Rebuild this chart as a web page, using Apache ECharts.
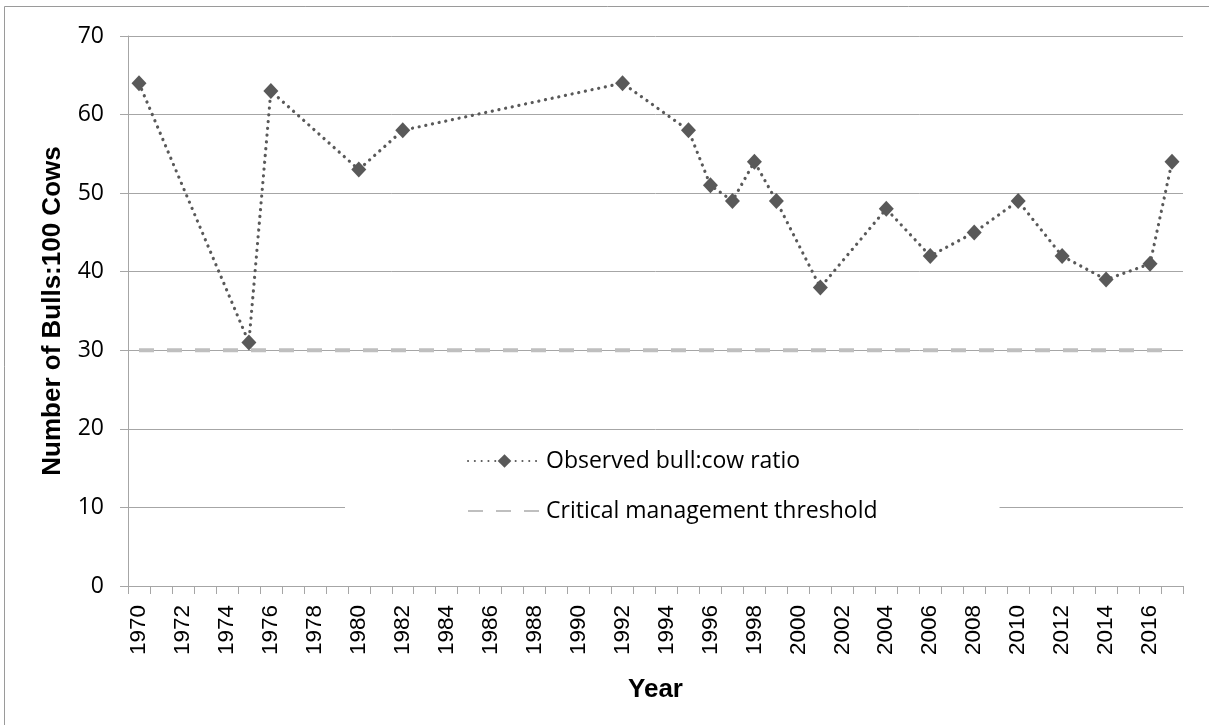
<!DOCTYPE html>
<html>
<head>
<meta charset="utf-8">
<script src="https://cdn.jsdelivr.net/npm/echarts@6/dist/echarts.min.js"></script>
<style>
  html, body { margin: 0; padding: 0; background: #ffffff; }
  #chart { width: 1209px; height: 725px; }
</style>
</head>
<body>
<div id="chart"></div>
<script>
// ---- data ----
const categories = ['1970','1971','1972','1973','1974','1975','1976','1977','1978','1979',
  '1980','1981','1982','1983','1984','1985','1986','1987','1988','1989',
  '1990','1991','1992','1993','1994','1995','1996','1997','1998','1999',
  '2000','2001','2002','2003','2004','2005','2006','2007','2008','2009',
  '2010','2011','2012','2013','2014','2015','2016','2017'];
const obsYears = ['1970','1975','1976','1980','1982','1992','1995','1996','1997','1998',
  '1999','2001','2004','2006','2008','2010','2012','2014','2016','2017'];
const obsRatios = [64, 31, 63, 53, 58, 64, 58, 51, 49, 54,
  49, 38, 48, 42, 45, 49, 42, 39, 41, 54];
const thresholdValue = 30;
const yTicks = [0, 10, 20, 30, 40, 50, 60, 70];
const seriesNames = ['Observed bull:cow ratio', 'Critical management threshold'];
const xAxisTitle = 'Year';
const yAxisTitle = 'Number of Bulls:100 Cows';

const gridGray = '#A6A6A6';
const chart = echarts.init(document.getElementById('chart'));
chart.setOption({
  animation: false,
  backgroundColor: '#ffffff',
  graphic: [{
    type: 'rect', silent: true, z: -10,
    shape: { x: 4.5, y: 6.5, width: 1400, height: 900 },
    style: { fill: 'none', stroke: '#9a9a9a', lineWidth: 1 }
  }],
  grid: { left: 128, right: 26, top: 36, bottom: 139 },
  legend: {
    orient: 'vertical',
    left: 345,
    top: 436,
    padding: [12, 122, 12, 122],
    backgroundColor: '#ffffff',
    itemWidth: 73,
    itemHeight: 17,
    itemGap: 24,
    textStyle: { fontFamily: 'Open Sans', fontSize: 23, color: '#000000', lineHeight: 26 },
    data: seriesNames
  },
  xAxis: {
    type: 'category',
    data: categories,
    boundaryGap: true,
    name: xAxisTitle,
    nameLocation: 'middle',
    nameGap: 91,
    nameTextStyle: { fontFamily: 'Liberation Sans', fontWeight: 'bold', fontSize: 26, color: '#000000' },
    axisLine: { lineStyle: { color: gridGray, width: 1 } },
    axisTick: { show: true, interval: 0, length: 8, lineStyle: { color: gridGray } },
    axisLabel: {
      interval: 1, rotate: 90, margin: 19,
      fontFamily: 'Liberation Sans', fontSize: 22.5, color: '#000000'
    },
    splitLine: { show: false }
  },
  yAxis: {
    type: 'value',
    min: yTicks[0],
    max: yTicks[yTicks.length - 1],
    interval: 10,
    name: yAxisTitle,
    nameLocation: 'middle',
    nameGap: 62,
    nameRotate: 90,
    nameTextStyle: { fontFamily: 'Liberation Sans', fontWeight: 'bold', fontSize: 26, color: '#000000' },
    axisLine: { show: true, lineStyle: { color: gridGray, width: 1 } },
    axisTick: { show: true, length: 8, lineStyle: { color: gridGray } },
    axisLabel: { margin: 24, fontFamily: 'Open Sans', fontSize: 23, color: '#000000' },
    splitLine: { show: true, lineStyle: { color: gridGray, width: 1 } }
  },
  series: [
    {
      name: seriesNames[0],
      type: 'line',
      data: obsYears.map((y, i) => [y, obsRatios[i]]),
      showAllSymbol: true,
      symbol: 'diamond',
      symbolSize: [15, 16],
      itemStyle: { color: '#595959' },
      lineStyle: { color: '#595959', width: 3.2, type: [0.1, 6.7], cap: 'round' },
      z: 3
    },
    {
      name: seriesNames[1],
      type: 'line',
      data: categories.map(c => [c, thresholdValue]),
      symbol: 'none',
      itemStyle: { color: 'rgba(0,0,0,0)' },
      lineStyle: { color: '#BFBFBF', width: 4, type: [15, 13] },
      z: 2
    }
  ]
});
</script>
</body>
</html>
